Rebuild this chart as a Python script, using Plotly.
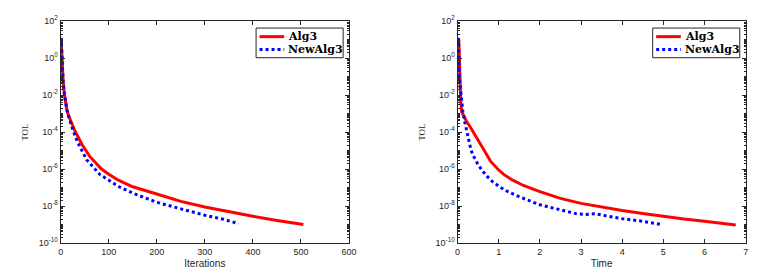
import plotly.graph_objects as go

# ---------------- data ----------------
iter_alg3 = [1, 2, 3, 5, 8, 10, 13, 17, 20, 30, 45, 60, 85, 100, 120, 150, 200, 250, 300, 350, 400, 450, 505]
tol_iter_alg3 = [11.2, 1.6, 0.32, 0.063, 0.01, 0.004, 1.6e-3, 7.1e-4, 4.5e-4, 1.1e-4, 2e-5, 5e-6, 1e-6,
                 5.2e-7, 2.5e-7, 1.1e-7, 4.5e-8, 1.8e-8, 8.9e-9, 4.8e-9, 2.8e-9, 1.66e-9, 1e-9]

iter_new = [1, 2, 3, 5, 8, 10, 13, 17, 20, 25, 34, 54, 82, 100, 123, 150, 200, 250, 300, 340, 370]
tol_iter_new = [12.6, 1.6, 0.32, 0.063, 0.01, 0.004, 1.6e-3, 6.3e-4, 3.5e-4, 1.4e-4, 3.3e-5, 3.2e-6, 5e-7,
                2.5e-7, 1.05e-7, 5e-8, 1.6e-8, 7.1e-9, 3.2e-9, 1.9e-9, 1.12e-9]

time_alg3 = [0.03, 0.04, 0.05, 0.06, 0.08, 0.1, 0.15, 0.215, 0.335, 0.42, 0.5, 0.6, 0.7, 0.81, 1.0, 1.13,
             1.33, 1.6, 2.0, 2.5, 3.0, 3.5, 4.0, 4.5, 5.0, 5.5, 6.0, 6.76]
tol_time_alg3 = [11, 2.0, 0.1, 0.02, 0.004, 1.26e-3, 7.1e-4, 4e-4, 1.5e-4, 7.1e-5, 3.5e-5, 1.4e-5, 5.6e-6,
                 2.5e-6, 8.9e-7, 5e-7, 2.6e-7, 1.3e-7, 6e-8, 2.6e-8, 1.4e-8, 8.9e-9, 5.8e-9, 4e-9,
                 2.7e-9, 2e-9, 1.5e-9, 9.5e-10]

time_new = [0.02, 0.03, 0.05, 0.07, 0.1, 0.13, 0.17, 0.22, 0.28, 0.33, 0.4, 0.49, 0.6, 0.72, 0.85, 1.05,
            1.25, 1.5, 2.0, 2.5, 2.9, 3.1, 3.33, 3.6, 4.0, 4.5, 4.96]
tol_time_new = [12.6, 1.0, 0.063, 0.025, 0.004, 1.26e-3, 4e-4, 1.26e-4, 3.2e-5, 1e-5, 4.5e-6, 1.9e-6,
                8.3e-7, 4e-7, 2.1e-7, 1e-7, 5.6e-8, 3.2e-8, 1.17e-8, 6.3e-9, 3.8e-9, 3.5e-9, 3.9e-9,
                3e-9, 2.1e-9, 1.5e-9, 1e-9]

series_names = ["Alg3", "NewAlg3"]
x_titles = ["Iterations", "Time"]
y_title = "TOL"
y_tick_vals = [1e2, 1e0, 1e-2, 1e-4, 1e-6, 1e-8, 1e-10]
y_tick_text = ["10<sup>2</sup>", "10<sup>0</sup>", "10<sup>-2</sup>", "10<sup>-4</sup>",
               "10<sup>-6</sup>", "10<sup>-8</sup>", "10<sup>-10</sup>"]

# ---------------- styling ----------------
AX = "#262626"
RED = "#ff0000"
BLUE = "#0000ff"
W, H = 781, 279
minor_vals = [k * 10.0 ** n for n in range(-10, 2) for k in range(1, 10)
              if not (k == 1 and n % 2 == 0)]

fig = go.Figure()
fig.add_trace(go.Scatter(x=iter_alg3, y=tol_iter_alg3, mode="lines", name=series_names[0],
                         line=dict(color=RED, width=3), xaxis="x", yaxis="y", showlegend=False))
fig.add_trace(go.Scatter(x=iter_new, y=tol_iter_new, mode="lines", name=series_names[1],
                         line=dict(color=BLUE, width=3, dash="dot"), xaxis="x", yaxis="y", showlegend=False))
fig.add_trace(go.Scatter(x=time_alg3, y=tol_time_alg3, mode="lines", name=series_names[0],
                         line=dict(color=RED, width=3), xaxis="x2", yaxis="y2", showlegend=False))
fig.add_trace(go.Scatter(x=time_new, y=tol_time_new, mode="lines", name=series_names[1],
                         line=dict(color=BLUE, width=3, dash="dot"), xaxis="x2", yaxis="y2", showlegend=False))

tickfont = dict(family="Liberation Sans, Arial", size=9, color=AX)
xcommon = dict(showline=True, linecolor=AX, linewidth=1, mirror="ticks", ticks="inside",
               ticklen=4, tickcolor=AX, showgrid=False, zeroline=False, tickfont=tickfont,
               title_font=dict(family="Liberation Sans, Arial", size=10, color=AX), title_standoff=4)
ycommon = dict(type="log", range=[-10, 2], tickmode="array", tickvals=y_tick_vals, ticktext=y_tick_text,
               showline=True, linecolor=AX, linewidth=1, mirror="ticks", ticks="inside", ticklen=4,
               tickcolor=AX, showgrid=False, zeroline=False, tickfont=tickfont,
               minor=dict(tickmode="array", tickvals=minor_vals, ticks="inside", ticklen=2,
                          tickcolor=AX, showgrid=False),
               title=dict(text=y_title, font=dict(family="Liberation Serif, Times New Roman", size=9, color=AX),
                          standoff=8),
               domain=[0.1158, 0.9473])

# ---- legend boxes (MATLAB style, compact) ----
legfont = dict(family="DejaVu Serif", size=11, color="black", weight="bold")
shapes, annotations = [], []
for box_left in (256.7, 659.0):
    shapes.append(dict(type="rect", xref="paper", yref="paper", layer="above",
                       x0=box_left / W, x1=(box_left + 88.3) / W, y0=1 - 53 / H, y1=1 - 22 / H,
                       line=dict(color=AX, width=1), fillcolor="white"))
    for row, (name, color, dash) in enumerate(zip(series_names, (RED, BLUE), ("solid", "dot"))):
        yc = 1 - (31 + row * 13.3) / H
        shapes.append(dict(type="line", xref="paper", yref="paper", layer="above",
                           x0=(box_left + 3.5) / W, x1=(box_left + 28.5) / W, y0=yc, y1=yc,
                           line=dict(color=color, width=3, dash=dash)))
        annotations.append(dict(text=name, xref="paper", yref="paper", x=(box_left + 30.5) / W, y=yc,
                                xanchor="left", yanchor="middle", showarrow=False, font=legfont))

fig.update_layout(
    width=W, height=H,
    margin=dict(l=0, r=0, t=0, b=0),
    paper_bgcolor="white", plot_bgcolor="white",
    showlegend=False,
    xaxis=dict(xcommon, range=[0, 600], dtick=100, domain=[0.0749, 0.4494],
               title=dict(text=x_titles[0])),
    yaxis=dict(ycommon, anchor="x"),
    xaxis2=dict(xcommon, range=[0, 7], dtick=1, domain=[0.5903, 0.9645], anchor="y2",
                title=dict(text=x_titles[1])),
    yaxis2=dict(ycommon, anchor="x2"),
    shapes=shapes,
    annotations=annotations,
)

fig.write_html("out.html", config={"displayModeBar": False},
               post_script="document.body.style.margin='0px';")
